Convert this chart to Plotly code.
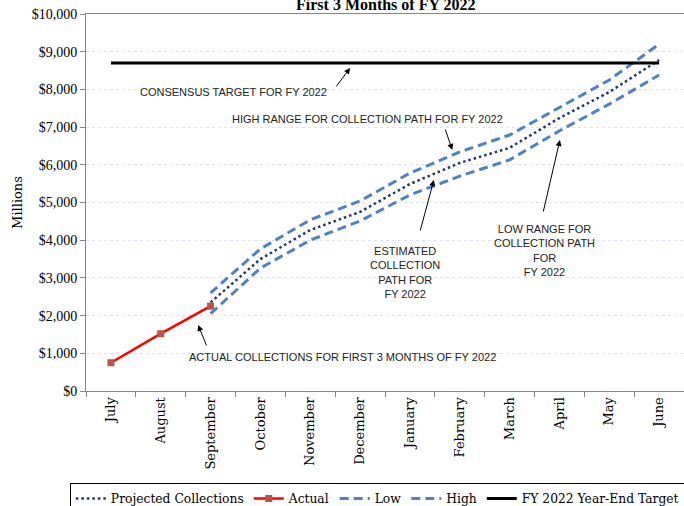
import plotly.graph_objects as go

months = ["July", "August", "September", "October", "November", "December",
          "January", "February", "March", "April", "May", "June"]
actual = [750, 1520, 2250, None, None, None, None, None, None, None, None, None]
projected = [None, None, 2350, 3500, 4270, 4750, 5490, 6050, 6450, 7240, 7930, 8780]
low = [None, None, 2050, 3260, 4000, 4510, 5200, 5700, 6130, 6900, 7610, 8380]
high = [None, None, 2600, 3770, 4540, 5040, 5780, 6340, 6790, 7530, 8250, 9200]
target = [8700] * 12
y_ticks = [0, 1000, 2000, 3000, 4000, 5000, 6000, 7000, 8000, 9000, 10000]
y_labels = ["$0", "$1,000", "$2,000", "$3,000", "$4,000", "$5,000",
            "$6,000", "$7,000", "$8,000", "$9,000", "$10,000"]

SERIF = "Liberation Serif, Times New Roman, serif"
DSERIF = "DejaVu Serif, serif"
SANS = "Liberation Sans, Arial, sans-serif"

fig = go.Figure()
fig.add_trace(go.Scatter(x=months, y=projected, name="Projected Collections", mode="lines",
                         line=dict(color="#1F3864", width=2.5, dash="2.5px,3px")))
fig.add_trace(go.Scatter(x=months, y=actual, name="Actual", mode="lines+markers",
                         line=dict(color="#FF0000", width=2.5),
                         marker=dict(symbol="square", size=7, color="#C0504D")))
fig.add_trace(go.Scatter(x=months, y=low, name="Low", mode="lines",
                         line=dict(color="#4F81C6", width=3, dash="9px,5px")))
fig.add_trace(go.Scatter(x=months, y=high, name="High", mode="lines",
                         line=dict(color="#4F81C6", width=3, dash="9px,5px")))
fig.add_trace(go.Scatter(x=months, y=target, name="FY 2022 Year-End Target", mode="lines",
                         line=dict(color="#000000", width=3)))

texts = [
    ("CONSENSUS TARGET FOR FY 2022", 2.45, 7932),
    ("HIGH RANGE FOR COLLECTION PATH FOR FY 2022", 5.14, 7216),
    ("ESTIMATED<br>COLLECTION<br>PATH FOR<br>FY 2022", 5.90, 3131),
    ("LOW RANGE FOR<br>COLLECTION PATH<br>FOR<br>FY 2022", 8.71, 3714),
    ("ACTUAL COLLECTIONS FOR FIRST 3 MONTHS OF FY 2022", 4.64, 902),
]
for t, x, y in texts:
    fig.add_annotation(x=x, y=y, xref="x", yref="y", text=t, showarrow=False,
                       font=dict(family=SANS, size=11, color="#222222"), align="center")

arrows = [
    (4.80, 8569, 4.50, 8038),
    (6.85, 6394, 6.70, 6977),
    (6.48, 5598, 6.20, 4218),
    (9.01, 6659, 8.67, 4722),
    (1.75, 1751, 1.93, 1167),
]
for x, y, ax, ay in arrows:
    fig.add_annotation(x=x, y=y, xref="x", yref="y", ax=ax, ay=ay, axref="x", ayref="y",
                       text="", showarrow=True, arrowhead=2, arrowsize=1.2,
                       arrowwidth=1, arrowcolor="#000000")

fig.add_annotation(x=0.5, y=(377 + 9) / 377, xref="paper", yref="paper",
                   text="<b>First 3 Months of FY 2022</b>", showarrow=False,
                   font=dict(family=SERIF, size=16, color="#000000"), yanchor="middle")

fig.update_layout(
    width=684, height=506,
    margin=dict(l=86, r=0, t=14, b=115, autoexpand=False),
    paper_bgcolor="white", plot_bgcolor="white",
    font=dict(family=SERIF, size=13, color="#000000"),
    showlegend=True,
    legend=dict(orientation="h", x=-0.027, y=-0.244, xanchor="left", yanchor="top",
                bordercolor="#000000", borderwidth=1, bgcolor="white",
                font=dict(family=DSERIF, size=12.3), itemwidth=30, tracegroupgap=0),
    xaxis=dict(type="category", showline=True, linecolor="#868686", linewidth=1,
               mirror=True, ticks="outside", tickson="boundaries", ticklen=5,
               tickcolor="#868686", tickangle=-90, showgrid=False, automargin=False,
               tickfont=dict(family=DSERIF, size=13), range=[-0.5, 11.5]),
    yaxis=dict(range=[0, 10000], tickvals=y_ticks, ticktext=y_labels, automargin=False,
               ticklabeloverflow="allow",
               showline=True, linecolor="#868686", linewidth=1, ticks="outside",
               ticklen=5, tickcolor="#868686", showgrid=True, gridcolor="#DDE4F0",
               griddash="dot", gridwidth=1, zeroline=False,
               title=dict(text="Millions", font=dict(family=DSERIF, size=13), standoff=6),
               tickfont=dict(family=SERIF, size=14)),
)

fig.write_html("out.html", config={"displayModeBar": False},
               post_script="document.body.style.margin='0';")
